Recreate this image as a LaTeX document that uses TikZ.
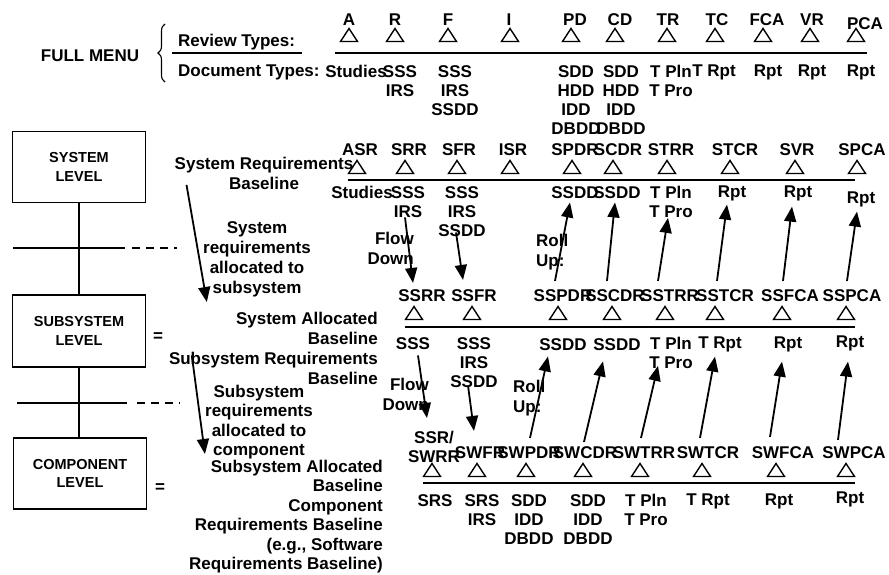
\documentclass[tikz,border=0pt]{standalone}
\usepackage{fontspec}
\setmainfont{Liberation Sans}
\usetikzlibrary{arrows.meta,positioning,decorations.pathreplacing}

\begin{document}
\begin{tikzpicture}[x=1pt, y=-1pt,
        review/.style={anchor=base, inner sep=1pt, font=\bfseries\fontsize{17}{19}\selectfont},
        doc/.style={anchor=north, inner sep=0pt, align=center, font=\bfseries\fontsize{17}{19}\selectfont},
        note/.style={inner sep=0pt, font=\bfseries\fontsize{17}{20}\selectfont},
        tightnote/.style={note, font=\bfseries\fontsize{17}{19.4}\selectfont},
        levelbox/.style={draw, line width=1.6pt, minimum width=133pt, minimum height=71pt, align=center, font=\bfseries\fontsize{14.5}{18.5}\selectfont},
        timeline/.style={line width=2.4pt},
        tick/.style={line width=1.8pt},
        flow/.style={line width=1.8pt, -{Triangle[length=15pt, width=12pt]}},
        milestone/.pic={\draw[line width=1.4pt, line join=miter] (-8.5,6.5) -- (8.5,6.5) -- (0,-6.5) -- cycle;}
    ]
    \useasboundingbox (0,0) rectangle (889,575);

    % full menu
    \node[note] (fullmenu) at (90,56) {FULL MENU};
    \draw[line width=1.1pt, decorate, decoration={brace, amplitude=7pt}] (165,82) -- (165,24);
    \node[review, anchor=base west] (revtypes) at (177,47) {Review Types:};
    \draw[tick] (172,53) -- (302,53);
    \node[review, anchor=base west] (doctypes) at (177,77) {Document Types:};

    \draw[timeline] (335,53) -- (867,53);
    \foreach \n/\lx/\tx/\ly/\t in {1/349/349/26/A, 2/395/395/26/R, 3/448/448/26/F, 4/509/510/26/I, 5/575/571/26/PD, 6/620/615/26/CD, 7/668/667/26/TR, 8/717/715/26/TC, 9/767/763/26/FCA, 10/812/810/26/VR, 11/865/856/30/PCA} {
        \node[review] (r1-\n) at (\lx,\ly) {\t};
        \pic at (\tx,35) {milestone};
    }
    \foreach \n/\x/\t in {1/356/Studies, 2/400/SSS\\IRS, 3/455/SSS\\IRS\\SSDD, 4/576/SDD\\HDD\\IDD\\DBDD, 5/621/SDD\\HDD\\IDD\\DBDD, 6/671/T Pln\\T Pro, 7/714/T Rpt, 8/768/Rpt, 9/812/Rpt, 10/861/Rpt}
        \node[doc] (d1-\n) at (\x,65) {\t};

    % system level
    \draw[timeline] (348,180) -- (855,180);
    \foreach \n/\lx/\tx/\t in {1/360/357/ASR, 2/409/405/SRR, 3/459/457/SFR, 4/513/510/ISR, 5/575/572/SPDR, 6/618/613/SCDR, 7/671/667/STRR, 8/735/730/STCR, 9/797/795/SVR, 10/862/857/SPCA} {
        \node[review] (r2-\n) at (\lx,156) {\t};
        \pic at (\tx,167) {milestone};
    }
    \foreach \n/\x/\y/\t in {1/362/186/Studies, 2/408/186/SSS\\IRS, 3/462/186/SSS\\IRS\\SSDD, 4/575/186/SSDD, 5/617/186/SSDD, 6/671/186/T Pln\\T Pro, 7/732/186/Rpt, 8/798/186/Rpt, 9/861/192/Rpt}
        \node[doc] (d2-\n) at (\x,\y) {\t};

    % subsystem level
    \draw[timeline] (405,327) -- (855,327);
    \foreach \n/\lx/\tx/\t in {1/422/414/SSRR, 2/474/472/SSFR, 3/563/558/SSPDR, 4/615/612/SSCDR, 5/670/665/SSTRR, 6/725/715/SSTCR, 7/790/782/SSFCA, 8/852/846/SSPCA} {
        \node[review] (r3-\n) at (\lx,301) {\t};
        \pic at (\tx,313) {milestone};
    }
    \foreach \n/\x/\y/\t in {1/413/337/SSS, 2/474/337/SSS\\IRS\\SSDD, 3/563/338/SSDD, 4/617/338/SSDD, 5/671/337/T Pln\\T Pro, 6/720/337/T Rpt, 7/788/337/Rpt, 8/850/336/Rpt}
        \node[doc] (d3-\n) at (\x,\y) {\t};

    % component level
    \draw[timeline] (423,483) -- (855,483);
    \node[doc] (r4-1) at (434,431) {SSR/\\SWRR};
    \pic at (432,470) {milestone};
    \foreach \n/\lx/\tx/\t in {2/480/477/SWFR, 3/529/526/SWPDR, 4/585/583/SWCDR, 5/644/640/SWTRR, 6/708/702/SWTCR, 7/783/776/SWFCA, 8/854/846/SWPCA} {
        \node[review] (r4-\n) at (\lx,458) {\t};
        \pic at (\tx,470) {milestone};
    }
    \foreach \n/\x/\y/\t in {1/435/494/SRS, 2/482/494/SRS\\IRS, 3/529/494/SDD\\IDD\\DBDD, 4/588/494/SDD\\IDD\\DBDD, 5/646/494/T Pln\\T Pro, 6/708/494/T Rpt, 7/779/494/Rpt, 8/850/492/Rpt}
        \node[doc] (d4-\n) at (\x,\y) {\t};

    % levels
    \node[levelbox] (sysbox) at (79,167) {SYSTEM\\LEVEL};
    \node[levelbox, minimum height=72pt] (subbox) at (79,331) {SUBSYSTEM\\LEVEL};
    \node[levelbox] (compbox) at (80,473.5) {COMPONENT\\LEVEL};
    \draw[tick, line width=1.5pt] (sysbox.south) -- (subbox.north);
    \draw[tick, line width=1.5pt] (subbox.south) -- (subbox.south |- compbox.north);
    \draw[tick] (13,248) -- (125,248);
    \draw[tick, dash pattern=on 8pt off 6pt] (132,248) -- (177,248);
    \draw[tick] (17,403) -- (127,403);
    \draw[tick, dash pattern=on 8pt off 6pt] (137,403) -- (180,403);
    \node[note] (eqsub) at (158,337) {=};
    \node[note] (eqcomp) at (160,488) {=};

    % baselines
    \node[note, anchor=north, align=center] (sysreq) at (264,157) {System Requirements\\Baseline};
    \node[note, anchor=north, align=center] (sysreqalloc) at (257,221) {System\\requirements\\allocated to\\subsystem};
    \node[note, anchor=north east, align=right] (sysalloc) at (378,312) {System Allocated\\Baseline\\Subsystem Requirements\\Baseline};
    \node[tightnote, anchor=north, align=center] (subreqalloc) at (259,385) {Subsystem\\requirements\\allocated to\\component};
    \node[tightnote, anchor=north east, align=right] (compalloc) at (383,460) {Subsystem Allocated\\Baseline\\Component\\Requirements Baseline\\(e.g., Software\\Requirements Baseline)};
    \draw[flow] ([xshift=12pt,yshift=5pt]sysreq.south west) -- ([xshift=38pt,yshift=10pt]sysalloc.north west);
    \draw[flow] ([xshift=23pt,yshift=-7pt]sysalloc.west) -- ([xshift=16pt,yshift=6pt]compalloc.north west);

    % flow down / roll up
    \node[note, anchor=north east, align=right] (flow1) at (414,232) {Flow\\Down};
    \node[note, anchor=north west, align=left] (roll1) at (536,234) {Roll\\Up:};
    \node[note, anchor=north east, align=right] (flow2) at (429,378) {Flow\\Down};
    \node[note, anchor=north west, align=left] (roll2) at (513,380) {Roll\\Up:};

    \draw[flow] ([xshift=-3pt]d2-2.south) -- ([xshift=-9pt,yshift=5pt]r3-1.north);
    \draw[flow] ([xshift=-6pt,yshift=4pt]d2-3.south) -- ([xshift=-11pt,yshift=8pt]r3-2.north);
    \draw[flow] ([xshift=-8pt,yshift=7pt]r3-3.north) -- ([xshift=-5pt,yshift=-4pt]d2-4.south);
    \draw[flow] ([xshift=-8pt,yshift=7pt]r3-4.north) -- ([xshift=-2pt,yshift=-4pt]d2-5.south);
    \draw[flow] ([xshift=-12pt,yshift=7pt]r3-5.north) -- ([xshift=-3pt]d2-6.south);
    \draw[flow] ([xshift=-8pt,yshift=7pt]r3-6.north) -- ([xshift=-5pt,yshift=-3pt]d2-7.south);
    \draw[flow] ([xshift=-7pt,yshift=7pt]r3-7.north) -- ([xshift=-6pt,yshift=-5pt]d2-8.south);
    \draw[flow] ([xshift=-5pt,yshift=7pt]r3-8.north) -- ([xshift=-4pt,yshift=-4pt]d2-9.south);

    \draw[flow] ([xshift=5pt,yshift=-6pt]d3-1.south) -- ([xshift=-7pt,yshift=13pt]r4-1.north);
    \draw[flow] ([xshift=-6pt,yshift=2pt]d3-2.south) -- ([xshift=-6pt,yshift=14pt]r4-2.north);
    \draw[flow] ([xshift=1pt,yshift=7pt]r4-3.north) -- ([xshift=-15pt,yshift=-6pt]d3-3.south);
    \draw[flow] ([xshift=-1pt,yshift=3pt]r4-4.north) -- ([xshift=-14pt,yshift=-11pt]d3-4.south);
    \draw[flow] ([xshift=-3pt,yshift=7pt]r4-5.north) -- ([xshift=-13pt,yshift=3pt]d3-5.south);
    \draw[flow] ([xshift=-8pt,yshift=7pt]r4-6.north) -- ([xshift=-5pt,yshift=-4pt]d3-6.south);
    \draw[flow] ([xshift=-13pt,yshift=8pt]r4-7.north) -- ([xshift=-6pt,yshift=-9pt]d3-7.south);
    \draw[flow] ([xshift=-16pt,yshift=5pt]r4-8.north) -- ([xshift=-2pt,yshift=-10pt]d3-8.south);
\end{tikzpicture}
\end{document}
